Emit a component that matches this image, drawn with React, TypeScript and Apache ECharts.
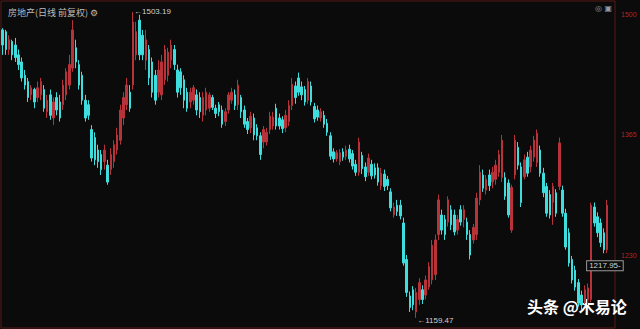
import React, { useEffect, useRef } from "react";
import * as echarts from "echarts";

const opens = [1483,1481,1461,1470,1466,1455,1447,1432,1425,1410,1416,1407,1410,1416,1391,1410,1384,1407,1402,1399,1410,1421,1440,1463,1444,1432,1404,1399,1371,1362,1348,1343,1335,1331,1326,1335,1348,1359,1384,1399,1413,1421,1455,1494,1477,1449,1461,1447,1432,1413,1410,1427,1432,1449,1461,1438,1436,1427,1413,1402,1404,1410,1407,1387,1393,1395,1407,1395,1399,1393,1380,1393,1404,1410,1399,1407,1393,1380,1373,1384,1373,1364,1357,1357,1371,1375,1395,1384,1382,1373,1380,1398,1420,1429,1419,1416,1404,1420,1397,1393,1384,1387,1378,1364,1346,1338,1335,1346,1341,1349,1344,1332,1323,1342,1329,1323,1332,1328,1328,1308,1321,1315,1301,1275,1286,1286,1266,1225,1184,1191,1166,1180,1191,1185,1194,1202,1208,1253,1275,1270,1267,1281,1275,1258,1281,1270,1267,1253,1247,1253,1292,1320,1303,1320,1312,1315,1323,1317,1317,1311,1258,1320,1351,1329,1318,1340,1329,1340,1334,1348,1322,1307,1298,1289,1300,1307,1303,1277,1255,1225,1213,1199,1185,1180,1180,1180,1284,1273,1266,1255,1236];
const closes = [1466,1461,1472,1455,1452,1444,1429,1421,1407,1418,1402,1418,1425,1395,1404,1387,1402,1393,1384,1421,1436,1444,1483,1447,1421,1404,1384,1387,1339,1337,1335,1326,1348,1312,1343,1354,1365,1393,1407,1421,1395,1492,1481,1455,1455,1472,1429,1413,1404,1438,1447,1461,1458,1466,1444,1413,1418,1404,1395,1413,1418,1393,1391,1407,1413,1410,1396,1389,1391,1377,1391,1410,1413,1398,1421,1391,1377,1371,1386,1365,1364,1343,1371,1368,1386,1385,1375,1375,1372,1387,1398,1422,1407,1413,1410,1402,1425,1402,1383,1385,1391,1377,1368,1341,1338,1345,1345,1340,1348,1338,1330,1323,1357,1327,1318,1339,1319,1320,1312,1322,1307,1308,1283,1284,1279,1274,1221,1188,1171,1174,1188,1199,1180,1202,1217,1241,1247,1292,1258,1253,1292,1264,1256,1270,1267,1281,1253,1230,1261,1294,1323,1305,1315,1308,1323,1331,1343,1359,1296,1275,1306,1359,1331,1289,1337,1322,1348,1359,1367,1322,1300,1277,1275,1307,1277,1356,1277,1239,1221,1202,1194,1176,1174,1191,1193,1286,1266,1255,1244,1236,1286];
const lows = [1455,1455,1455,1449,1447,1438,1425,1416,1402,1404,1395,1402,1404,1391,1384,1382,1376,1387,1380,1393,1404,1416,1436,1440,1416,1399,1380,1382,1335,1331,1328,1320,1326,1309,1320,1328,1343,1354,1376,1393,1391,1416,1449,1449,1449,1438,1421,1407,1399,1407,1404,1421,1425,1440,1438,1407,1410,1395,1391,1395,1399,1387,1384,1380,1387,1391,1393,1384,1386,1373,1375,1389,1400,1393,1393,1384,1373,1366,1367,1359,1359,1337,1350,1353,1366,1371,1371,1371,1367,1368,1375,1393,1400,1409,1404,1398,1400,1398,1379,1381,1380,1373,1364,1337,1334,1335,1331,1336,1337,1334,1326,1319,1319,1321,1313,1319,1315,1316,1308,1303,1302,1303,1279,1272,1274,1270,1218,1183,1166,1168,1159.47,1174,1175,1180,1191,1197,1202,1247,1253,1247,1262,1258,1252,1253,1263,1261,1247,1225,1243,1247,1286,1301,1298,1302,1305,1309,1318,1312,1292,1272,1255,1315,1326,1284,1315,1318,1323,1335,1329,1318,1295,1273,1271,1264,1273,1303,1273,1236,1217,1198,1190,1172,1168,1175,1174,1177,1262,1250,1239,1232,1232];
const highs = [1485,1483,1477,1472,1474,1461,1452,1438,1429,1421,1418,1425,1429,1421,1410,1416,1407,1413,1410,1427,1440,1455,1494,1472,1449,1436,1410,1404,1376,1368,1354,1348,1354,1337,1350,1359,1373,1399,1413,1429,1421,1503.19,1492,1500,1483,1483,1466,1452,1438,1449,1455,1466,1463,1472,1466,1444,1440,1432,1418,1418,1421,1416,1413,1413,1418,1413,1410,1399,1402,1398,1395,1413,1418,1416,1427,1410,1398,1384,1391,1389,1377,1368,1375,1373,1391,1391,1400,1389,1386,1393,1404,1429,1425,1435,1425,1420,1429,1425,1401,1398,1395,1392,1383,1368,1350,1348,1349,1350,1353,1354,1348,1337,1362,1346,1334,1344,1337,1333,1333,1328,1326,1319,1305,1289,1292,1292,1272,1230,1189,1195,1193,1204,1196,1207,1222,1247,1253,1298,1281,1275,1296,1286,1281,1275,1286,1286,1272,1258,1265,1300,1331,1326,1320,1326,1329,1337,1348,1365,1323,1315,1309,1365,1357,1334,1343,1346,1353,1364,1371,1353,1328,1311,1303,1311,1304,1362,1308,1282,1260,1229,1218,1203,1190,1196,1198,1289,1289,1278,1271,1260,1292];

const emptySlots = 2;
const yTicks = [1500, 1365, 1230];
const highMark = { index: 41, value: 1503.19, text: "←1503.19" };
const lowMark = { index: 130, value: 1159.47, text: "←1159.47" };
const priceMark = { index: 185, value: 1217.95, text: "1217.95-" };
const titleText = "房地产(日线 前复权)";
const watermark = "头条 @木易论";

export default function App() {
  const ref = useRef<HTMLDivElement>(null);
  useEffect(() => {
    if (!ref.current) return;
    const chart = echarts.init(ref.current, null, { renderer: "svg" });
    const n = opens.length;
    const categories = Array.from({ length: n + emptySlots }, (_, i) => String(i));
    const data = opens.map((o, i) => [o, closes[i], lows[i], highs[i]]);
    const markLabel = {
      color: "#d0d0d0",
      fontSize: 8,
      fontFamily: "Liberation Sans, Arial, sans-serif",
    };
    chart.setOption({
      animation: false,
      backgroundColor: "#0b0b0b",
      title: {
        text: titleText + " ⚙",
        left: 3,
        top: 3,
        textStyle: { color: "#bdbdbd", fontSize: 9, fontWeight: "normal", fontFamily: "Noto Sans CJK SC" },
      },
      grid: {
        left: 1,
        right: 25,
        top: 1,
        bottom: 1,
        show: true,
        borderColor: "#5a1818",
        borderWidth: 1,
        backgroundColor: "transparent",
        containLabel: false,
        outerBoundsMode: "none",
      },
      xAxis: {
        type: "category",
        data: categories,
        boundaryGap: true,
        axisLine: { show: false },
        axisTick: { show: false },
        axisLabel: { show: false },
        splitLine: { show: false },
      },
      yAxis: {
        type: "value",
        position: "right",
        min: 1148,
        max: 1515.5,
        axisLine: { show: false },
        axisTick: { show: false },
        splitLine: { show: false },
        axisLabel: {
          customValues: yTicks,
          formatter: (v: number) => String(v),
          color: "#a82a2a",
          fontSize: 7,
          margin: 6,
          fontFamily: "Liberation Sans, Arial, sans-serif",
        },
      },
      series: [
        {
          type: "candlestick",
          data,
          barWidth: 2,
          itemStyle: {
            color: "#b8323a",
            color0: "#3fdede",
            borderColor: "#b8323a",
            borderColor0: "#3fdede",
            borderWidth: 1,
          },
          markPoint: {
            symbol: "circle",
            symbolSize: 0,
            silent: true,
            data: [
              {
                coord: [highMark.index, highMark.value],
                label: { ...markLabel, show: true, position: "right", distance: 1, formatter: highMark.text },
              },
              {
                coord: [lowMark.index, lowMark.value],
                label: { ...markLabel, show: true, position: "right", distance: 1, offset: [0, 3], formatter: lowMark.text },
              },
              {
                coord: [priceMark.index, priceMark.value],
                label: {
                  ...markLabel,
                  show: true,
                  position: "right",
                  distance: 0,
                  offset: [-4, 0],
                  formatter: priceMark.text,
                  borderColor: "#9a9a9a",
                  borderWidth: 1,
                  padding: [1, 2, 0, 2],
                  backgroundColor: "#0b0b0b",
                },
              },
            ],
          },
        },
      ],
      graphic: [
        {
          type: "text",
          right: 28,
          top: 4,
          style: { text: "◎ ▣", fill: "#9a9a9a", fontSize: 8, fontFamily: "DejaVu Sans" },
        },
        {
          type: "text",
          left: 527,
          top: 298,
          style: {
            text: watermark,
            fill: "#ffffff",
            fontSize: 16,
            fontWeight: "bold",
            fontFamily: "Noto Sans CJK SC",
            shadowColor: "rgba(0,0,0,0.6)",
            shadowBlur: 2,
          },
        },
      ],
    });
    return () => chart.dispose();
  }, []);
  return (
    <div style={{ position: "fixed", left: 0, top: 0, width: 640, height: 329, background: "#0b0b0b" }}>
      <div ref={ref} style={{ width: 640, height: 329 }} />
    </div>
  );
}
